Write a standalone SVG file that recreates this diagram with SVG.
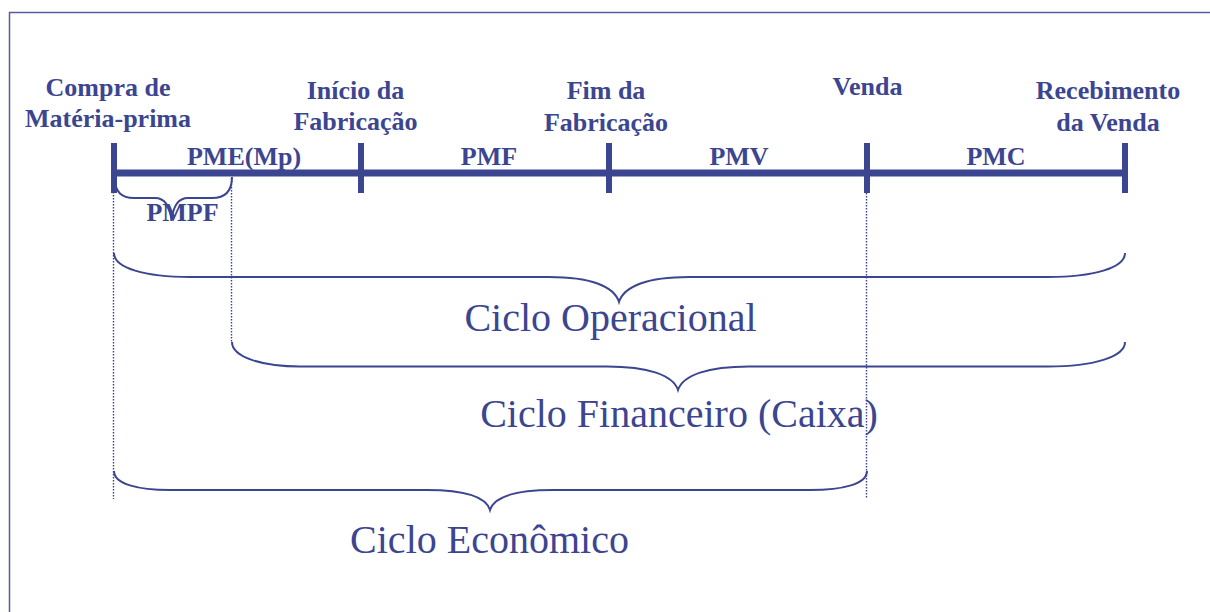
<svg xmlns="http://www.w3.org/2000/svg" width="1210" height="612" viewBox="0 0 1210 612">
<style>
.b{font-family:"Liberation Serif","Times New Roman",serif;font-weight:bold;font-size:26px;fill:#3c4590;text-anchor:middle}
.c{font-family:"Liberation Serif","Times New Roman",serif;font-size:40px;fill:#3c4590;text-anchor:middle}
.br{fill:none;stroke:#3c4590;stroke-width:2}
.dot{fill:none;stroke:#3a428c;stroke-width:1.4;stroke-dasharray:1.5 1.5}
.tl{stroke:#3c4590;stroke-width:7;fill:none}
.tk{stroke:#3c4590;stroke-width:6;fill:none}
</style>
<rect x="0" y="0" width="1210" height="612" fill="#ffffff"/>
<rect x="9.5" y="12.5" width="1220" height="620" fill="none" stroke="#565c9c" stroke-width="1.5"/>

<g id="timeline">
<line class="tl" x1="111" y1="173" x2="1128" y2="173"/>
<line class="tk" x1="114" y1="143" x2="114" y2="193"/>
<line class="tk" x1="361" y1="143" x2="361" y2="193"/>
<line class="tk" x1="609" y1="143" x2="609" y2="193"/>
<line class="tk" x1="867" y1="143" x2="867" y2="193"/>
<line class="tk" x1="1125" y1="143" x2="1125" y2="193"/>
</g>

<g id="connectors">
<line class="dot" x1="113.5" y1="192" x2="113.5" y2="499"/>
<line class="dot" x1="231.5" y1="178" x2="231.5" y2="343"/>
<line class="dot" x1="866.5" y1="193" x2="866.5" y2="499"/>
<path id="brace-pmpf" class="br" d="M115,179 C115,192 122,198 134,198 L155,198 C165,198 170,206 171.5,221 C173,206 178,198 188,198 L212,198 C226,198 232,190 232,177"/>
<path id="brace-operacional" class="br" d="M114,253 C114,268 145,277 190,277 L549,277 C590,277 614,286 619,302 C624,286 648,277 689,277 L1048,277 C1093,277 1125,268 1125,253"/>
<path id="brace-financeiro" class="br" d="M232,342 C232,357 262,366.5 300,366.5 L607,366.5 C648,366.5 673,375 678,390 C683,375 708,366.5 749,366.5 L1048,366.5 C1093,366.5 1125,357 1125,342"/>
<path id="brace-economico" class="br" d="M114,471 C114,484 138,490 170,490 L427,490 C466,490 486,497 490,510 C494,497 514,490 553,490 L810,490 C843,490 867,484 867,471"/>
</g>

<g id="n-compra"><text class="b" x="108" y="96">Compra de</text><text class="b" x="108" y="127">Matéria-prima</text></g>
<g id="n-inicio"><text class="b" x="355.5" y="99">Início da</text><text class="b" x="355.5" y="130">Fabricação</text></g>
<g id="n-fim"><text class="b" x="606" y="99">Fim da</text><text class="b" x="606" y="131">Fabricação</text></g>
<g id="n-venda"><text class="b" x="867.5" y="95">Venda</text></g>
<g id="n-recebimento"><text class="b" x="1108" y="99">Recebimento</text><text class="b" x="1108" y="131">da Venda</text></g>

<g id="p-pme"><text class="b" x="244" y="165">PME(Mp)</text></g>
<g id="p-pmf"><text class="b" x="489" y="165">PMF</text></g>
<g id="p-pmv"><text class="b" x="739" y="165">PMV</text></g>
<g id="p-pmc"><text class="b" x="996" y="165">PMC</text></g>
<g id="p-pmpf"><text class="b" x="182.5" y="221">PMPF</text></g>

<g id="c-operacional"><text class="c" x="610.5" y="331">Ciclo Operacional</text></g>
<g id="c-financeiro"><text class="c" x="679" y="427">Ciclo Financeiro (Caixa)</text></g>
<g id="c-economico"><text class="c" x="489.5" y="553">Ciclo Econômico</text></g>
</svg>
